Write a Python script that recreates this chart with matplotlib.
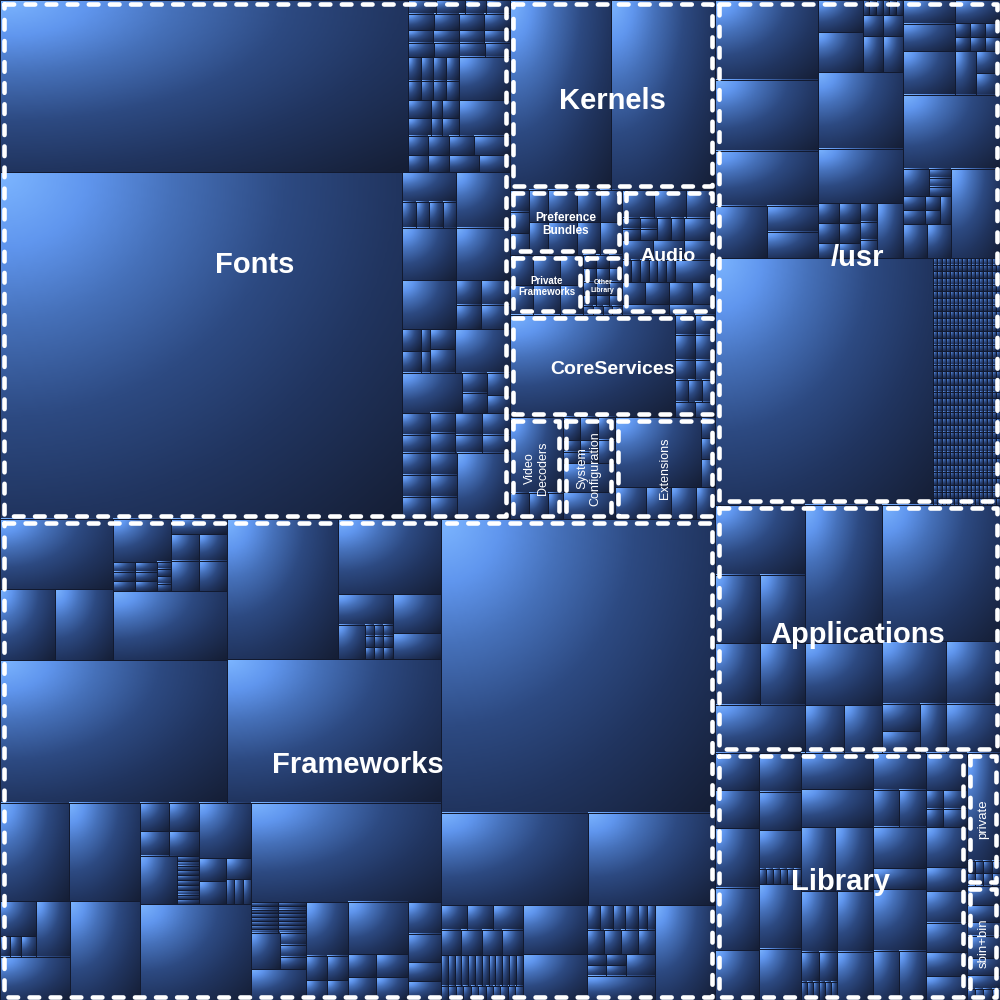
import numpy as np
import matplotlib.pyplot as plt
from matplotlib.patches import Rectangle
from matplotlib.collections import PatchCollection
from matplotlib.colors import LinearSegmentedColormap

# sizes of the top level folders (MB)
group_names = ["Fonts", "Frameworks", "Kernels", "Preference Bundles", "Private Frameworks",
               "Other Library", "Audio", "CoreServices", "Video Decoders",
               "System Configuration", "Extensions", "/usr", "Applications", "Library",
               "private", "sbin+bin"]
group_sizes = [2647, 3439, 390, 73, 44, 23, 116, 211, 54, 53, 102, 1439, 707, 622, 44, 38]
group_labels = ["Fonts", "Frameworks", "Kernels", "Preference\nBundles", "Private\nFrameworks",
                "Other\nLibrary", "Audio", "CoreServices", "Video\nDecoders",
                "System\nConfiguration", "Extensions", "/usr", "Applications", "Library",
                "private", "sbin+bin"]

# how the folders nest (System on the left, the rest of / on the right)
group_layout = [[["Fonts", ["Kernels",
                            [["Preference Bundles", ["Private Frameworks", "Other Library"]], "Audio"],
                            "CoreServices",
                            ["Video Decoders", "System Configuration", "Extensions"]]],
                 "Frameworks"],
                ["/usr", "Applications", ["Library", ["private", "sbin+bin"]]]]

# relative sizes of the items inside every folder (nested lists = sub folders)
fonts = [
    [702, [[4, 4, 3, 3.3], [4.2, 4, 4, 4.1], [3.3, 3.3, 3.3, 3.3], [3.6, 3.6, 3.6, 3.5],
           [[[3, 2.5], [3, 2.5], [3, 2.5], [3, 2.5]], 22],
           [[[4, 4], [2, 2], [3, 3]], 18], [4, 4, 5, 7], [3.5, 3.5, 5, 5.3]]],
    [1395, [[[16, [[3.5, 3.5], [3.5, 3.5]]], 30], [28, 28], [26, [[6, 6], [7, 7]]],
            [[[4, 4], [2, 2], [5, 6]], 24], [24, [[5, 5], [5, 4]]],
            [[6, 5], [5, 5], [6, 5], [6, 5]], [[[6, 6], [6, 6], [6, 6]], 35]]],
]
kernels = [190, 195]
preference_bundles = [[4, 4, 4], [6, 6], [9, 9], [[7, 7], [7, 7]]]
private_frameworks = [[7, 7], [8, 8], [7, 7]]
other_library = [[2, 2, 2], [2, 2, 2], [2, 2, 2], [1.5, 1.5, 1.5], [1, 1, 1, 1]]
audio = [[9, 9, 8], [[2, 2], [2, 2], [3, 3], 7], [6, 6, 6], [[2, 2, 2], [2, 2, 2], 9],
         [5, 5, 5, 5], [5, 5]]
core_services = [170, [[4, 4], [5, 5], [4, 4], [3, 3, 3], [3, 3]]]
video_decoders = [40, [5, 5, 4]]
system_configuration = [[4, 4, 4], [[2, 2], [2, 2], 4], 15, 14]
extensions = [[60, [3, 3, 4]], [10, 8, 8, 6]]
frameworks = [
    [
        [[[[76, [37, 39]], [[[24, [[2, 2, 2], [2, 2, 2], [1, 1, 1, 1]]], [8, [7, 7], [8, 8]]], 75]], 310],
         [[148, [74, [[16, [9, [[1, 1, 1], [1, 1, 1], [1, 1, 1]]]], [18, 12]]]], 294]],
        [[[65, 67], [[[[12, [2, 2, 3]], 18], 29], 66]],
         [[[[8, 8], [7, 7], [17, [1, 1, 1, 1, 1, 1, 1, 1, 1, 1]]], [28, [[6, 6], [5, [2, 2, 2]]]]], 102],
         [180, [[[[1, 1, 1, 1, 1, 1, 1, 1], [1, 1, 1, 1, 1, 1, 1, 1]], [10, [3, 3, 3]], 16],
                [22, [[5, 5], [4, 4]]], [30, [[6, 6], [7, 7]]], [10, 9, 6, 6]]]],
    ],
    [770, [130, 112],
     [[[6, 6, 7], [5, 5, 5, 5], [2, 2, 2, 2, 2, 2, 2, 2, 2, 2, 2, 2], [1, 1, 1, 1, 1, 1, 1, 1, 1, 1, 1]],
      [30, 28],
      [[3, 3, 3, 3, 2, 2], [4, 4, 4, 4], [[2, 2], [2, 2], 6], [16]],
      54]],
]
usr_share_row = [0.27] * 16          # a long run of equal, tiny files
usr = [
    [[80, 71, 55, [26, [13, 13]]],
     [[[14, 17], [[[1, 1, 1], [1, 1, 1]], [4, 4], [7, 7]]], 63, 45,
      [[[4, 4], [4, 4], [3, 3]], [3, 3, 3], 14]],
     [[[12, 14, 22], [10, [[2, 2], [2, 2], [2, 2]], [9, [5, 5]]]], 70,
      [[[7, [2, 2, 2]], [[3, 3], [2, 2], 3], [8, 8]], 42]]],
    [522, [usr_share_row] * 37],
]
applications = [[59, [29, 29], [26, 26], 41],
                [101, 45, [18, 17]],
                [153, [38, 32], [[10, 8], 12, 25]]]
library = [[15, 15, 24, 25, 20],
           [15, 15, 15, [[1, 1, 1], [1, 1, 1]], 25, 20],
           [24, 25, [20, 22], [20, 20], [[[5, 5], [1, 1, 1, 1, 1, 1]], 16]],
           [18, [9, 9], 20, 10, 30, [12, 12]],
           [14, [[3, 3], [4, 4]], 15, 9, 12, 11, [9, 9]]]
private = [36, [1, 1, 1, 1], [1, 1, 1, 1]]
sbin_bin = [7, 6, 5, 8, 6, 5, [[1, 1], [1, 1]]]

group_contents = dict(zip(group_names, [fonts, frameworks, kernels, preference_bundles,
                                        private_frameworks, other_library, audio, core_services,
                                        video_decoders, system_configuration, extensions, usr,
                                        applications, library, private, sbin_bin]))
size_of = dict(zip(group_names, group_sizes))

# label styles: fontsize, weight, rotation
label_style = {
    "Fonts": (21, "bold", 0), "Frameworks": (21, "bold", 0), "Kernels": (21, "bold", 0),
    "/usr": (21, "bold", 0), "Applications": (21, "bold", 0), "Library": (21, "bold", 0),
    "Audio": (14, "bold", 0), "CoreServices": (14, "bold", 0),
    "Preference Bundles": (8.5, "bold", 0), "Private Frameworks": (7, "bold", 0),
    "Other Library": (5, "bold", 0),
    "Video Decoders": (9, "normal", 90), "System Configuration": (9, "normal", 90),
    "Extensions": (9, "normal", 90), "private": (9.5, "normal", 90), "sbin+bin": (9.5, "normal", 90),
}


def total(node):
    if isinstance(node, str):
        return size_of[node]
    if isinstance(node, list):
        return sum(total(c) for c in node)
    return node


def split(node, x, y, w, h, out):
    # slice along the longer side, recursively
    if not isinstance(node, list):
        out.append((node, x, y, w, h))
        return
    vals = [total(c) for c in node]
    s = sum(vals)
    for c, v in zip(node, vals):
        if w >= h:
            cw = w * v / s
            split(c, x, y, cw, h, out)
            x += cw
        else:
            ch = h * v / s
            split(c, x, y, w, ch, out)
            y += ch


# cushion shading: bright top-left, dark bottom-right
cushion = LinearSegmentedColormap.from_list("cushion", [
    (0.0, "#7cb5ff"), (0.15, "#6096ee"), (0.3, "#4671ba"), (0.5, "#2d4a82"),
    (0.7, "#213560"), (1.0, "#151e35")])


def shade(n):
    u, v = np.meshgrid(np.linspace(0, 1, n), np.linspace(0, 1, n))
    return cushion(np.sqrt(u ** 2 + v ** 2) / np.sqrt(2))


grad_big = shade(96)
grad_small = shade(16)

fig = plt.figure(figsize=(10, 10), dpi=100, facecolor="#1a2644")
ax = fig.add_axes([0, 0, 1, 1])
ax.set_facecolor("#1a2644")

groups = []
split(group_layout, 0, 0, 1000, 1000, groups)

edges = []
for name, gx, gy, gw, gh in groups:
    tiles = []
    split(group_contents[name], gx, gy, gw, gh, tiles)
    for _, tx, ty, tw, th in tiles:
        g = grad_big if min(tw, th) > 25 else grad_small
        ax.imshow(g, extent=(tx, tx + tw, ty + th, ty), interpolation="bilinear",
                  aspect="auto", zorder=1)
        edges.append(Rectangle((tx, ty), tw, th))

ax.add_collection(PatchCollection(edges, facecolor="none", edgecolor="#121a30",
                                  linewidth=0.7, zorder=2))

for name, gx, gy, gw, gh in groups:
    ax.add_patch(Rectangle((gx + 3.5, gy + 3.5), gw - 7, gh - 7, fill=False,
                           edgecolor="white", linewidth=3.3, capstyle="round",
                           joinstyle="round", linestyle=(0, (2.1, 2.5)), zorder=3))
    fs, wt, rot = label_style[name]
    dy = fs * 0.28 if rot == 0 else 0
    ax.text(gx + gw / 2, gy + gh / 2 + dy, group_labels[group_names.index(name)],
            color="white", fontsize=fs, fontweight=wt, rotation=rot,
            family=["Liberation Sans", "DejaVu Sans"], ha="center", va="center",
            multialignment="center", linespacing=1.15, zorder=4)

ax.set_xlim(0, 1000)
ax.set_ylim(1000, 0)
ax.axis("off")

fig.savefig("out.png", dpi=100, facecolor=fig.get_facecolor())
